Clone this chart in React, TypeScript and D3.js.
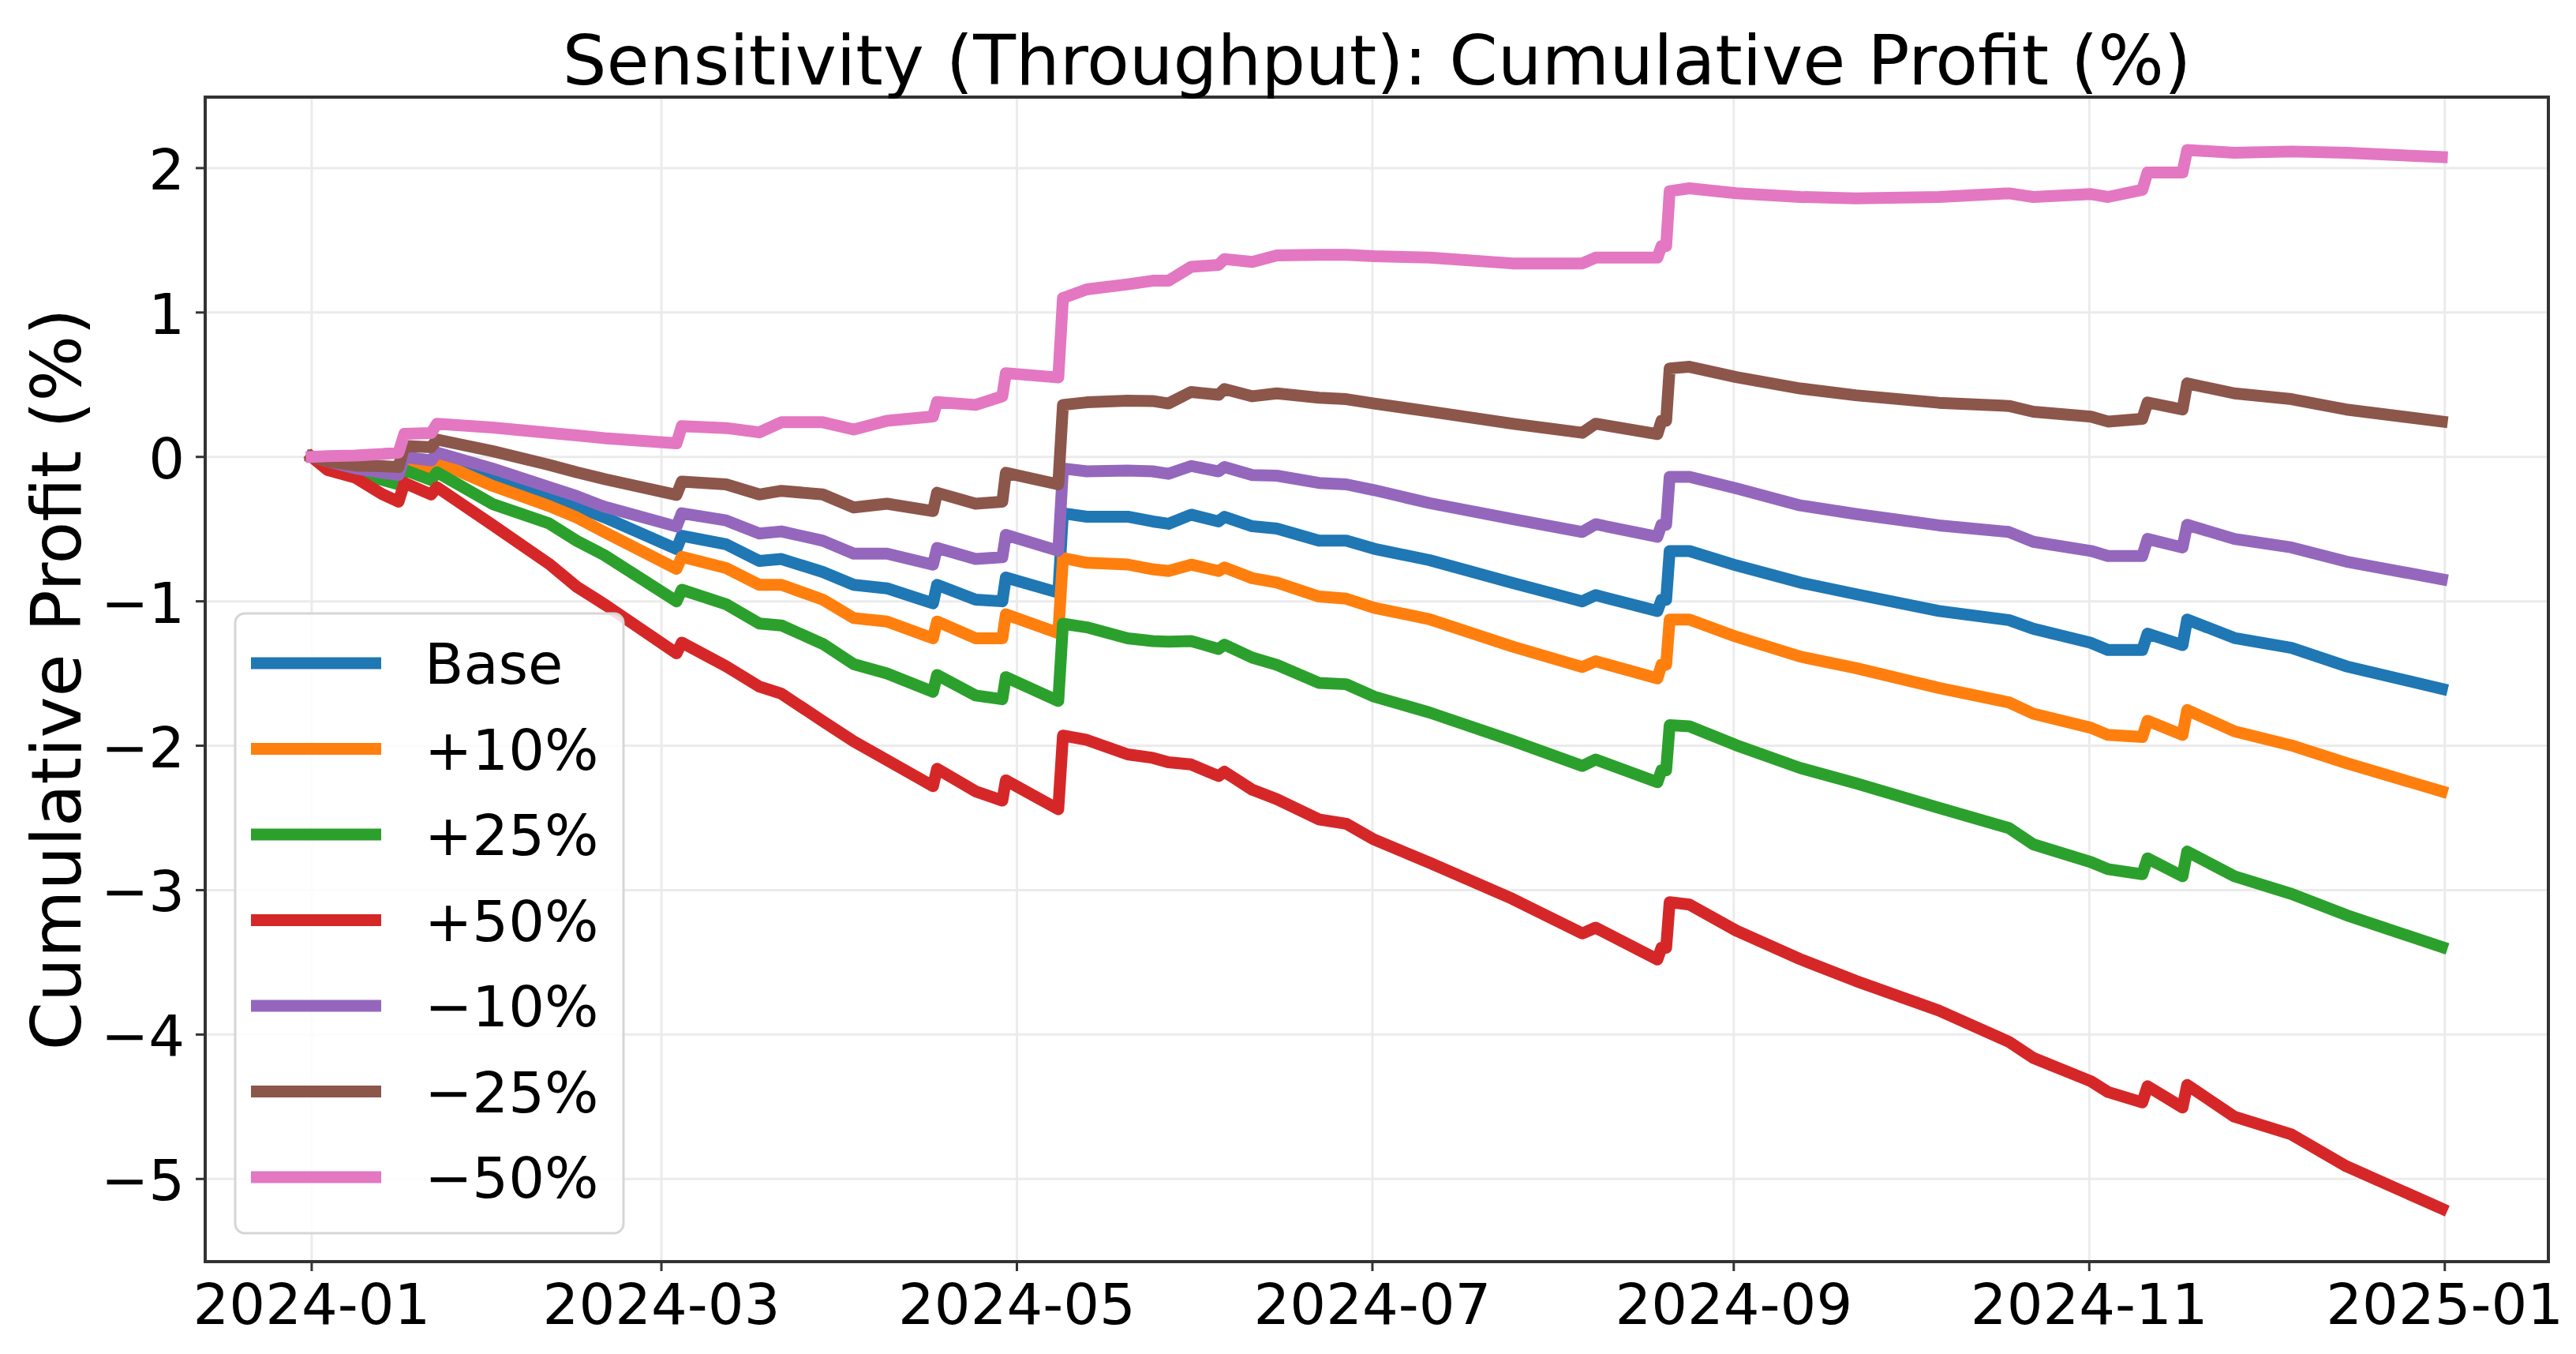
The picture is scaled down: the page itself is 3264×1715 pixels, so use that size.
import React, { useEffect } from 'react';
import * as d3 from 'd3';

// Days elapsed since 2024-01-01 (UTC) for each sampled point
const DAYS = [
  0, 2.7, 7.5, 12.2, 14.9, 15.9, 20.5, 21.5, 31.0, 40.7, 45.5, 50.2, 62.6, 63.5, 71.1, 76.8,
  80.6, 87.7, 93.0, 98.7, 106.6, 107.3, 113.9, 118.5, 119.1, 128.1, 128.9, 133.0, 140.0, 144.3,
  147.0, 150.9, 155.6, 156.6, 161.4, 165.6, 172.8, 177.5, 182.3, 191.8, 206.0, 218.0, 220.3,
  230.9, 231.6, 232.4, 233.0, 236.4, 244.4, 255.4, 264.9, 279.2, 291.2, 295.4, 305.3, 308.2,
  314.1, 315.0, 321.0, 321.8, 329.9, 339.7, 349.1, 365.5,
];

const BASE = [
  0, -0.035, -0.09, -0.12, -0.135, -0.03, -0.05, 0.0, -0.144, -0.262, -0.345, -0.418, -0.638, -0.546,
  -0.605, -0.72, -0.707, -0.797, -0.886, -0.91, -1.014, -0.886, -0.988, -1.0, -0.835, -0.94, -0.39,
  -0.414, -0.414, -0.447, -0.463, -0.4, -0.447, -0.415, -0.48, -0.496, -0.58, -0.58, -0.636, -0.715,
  -0.872, -1.0, -0.957, -1.067, -0.99, -0.99, -0.652, -0.652, -0.751, -0.87, -0.95, -1.067, -1.13,
  -1.19, -1.288, -1.337, -1.337, -1.224, -1.303, -1.126, -1.254, -1.322, -1.45, -1.606,
];

const PLUS_10 = [
  0, -0.04, -0.095, -0.125, -0.14, -0.04, -0.09, -0.034, -0.2, -0.34, -0.42, -0.52, -0.775, -0.692,
  -0.77, -0.886, -0.886, -0.988, -1.116, -1.14, -1.256, -1.14, -1.256, -1.256, -1.09, -1.22, -0.7,
  -0.733, -0.745, -0.778, -0.79, -0.746, -0.79, -0.766, -0.84, -0.87, -0.967, -0.982, -1.045, -1.124,
  -1.313, -1.455, -1.415, -1.534, -1.44, -1.44, -1.126, -1.126, -1.245, -1.383, -1.462, -1.6, -1.7,
  -1.778, -1.876, -1.925, -1.94, -1.827, -1.925, -1.753, -1.9, -1.998, -2.12, -2.316,
];

const PLUS_25 = [
  0, -0.05, -0.11, -0.16, -0.19, -0.09, -0.16, -0.107, -0.326, -0.46, -0.582, -0.68, -1.0, -0.92,
  -1.02, -1.154, -1.167, -1.295, -1.435, -1.5, -1.627, -1.51, -1.652, -1.678, -1.525, -1.69, -1.155,
  -1.18, -1.256, -1.275, -1.28, -1.275, -1.33, -1.3, -1.39, -1.44, -1.565, -1.574, -1.66, -1.77,
  -1.965, -2.14, -2.095, -2.253, -2.17, -2.17, -1.858, -1.866, -1.996, -2.154, -2.26, -2.43, -2.57,
  -2.683, -2.806, -2.855, -2.89, -2.78, -2.904, -2.733, -2.904, -3.026, -3.173, -3.394,
];

const PLUS_50 = [
  0, -0.09, -0.144, -0.26, -0.31, -0.18, -0.26, -0.21, -0.47, -0.74, -0.9, -1.02, -1.36, -1.286,
  -1.45, -1.59, -1.64, -1.83, -1.97, -2.1, -2.28, -2.16, -2.316, -2.38, -2.24, -2.44, -1.93, -1.96,
  -2.06, -2.084, -2.115, -2.13, -2.21, -2.18, -2.305, -2.37, -2.51, -2.54, -2.65, -2.81, -3.06, -3.3,
  -3.26, -3.48, -3.4, -3.4, -3.083, -3.1, -3.28, -3.478, -3.628, -3.834, -4.05, -4.162, -4.324,
  -4.398, -4.47, -4.358, -4.505, -4.349, -4.569, -4.692, -4.912, -5.206,
];

const MINUS_10 = [
  0, -0.03, -0.08, -0.11, -0.125, 0.0, -0.025, 0.03, -0.08, -0.208, -0.272, -0.345, -0.482, -0.39,
  -0.44, -0.53, -0.516, -0.58, -0.67, -0.67, -0.746, -0.63, -0.707, -0.695, -0.54, -0.65, -0.08,
  -0.1, -0.094, -0.1, -0.117, -0.063, -0.1, -0.07, -0.126, -0.13, -0.18, -0.19, -0.23, -0.32, -0.43,
  -0.52, -0.466, -0.553, -0.47, -0.47, -0.138, -0.138, -0.217, -0.336, -0.395, -0.474, -0.52,
  -0.588, -0.651, -0.686, -0.686, -0.568, -0.627, -0.47, -0.568, -0.627, -0.725, -0.847,
];

const MINUS_25 = [
  0, -0.03, -0.06, -0.065, -0.07, 0.076, 0.067, 0.12, 0.04, -0.055, -0.107, -0.153, -0.263, -0.171,
  -0.19, -0.26, -0.235, -0.26, -0.35, -0.324, -0.375, -0.248, -0.324, -0.31, -0.11, -0.19, 0.36,
  0.378, 0.39, 0.387, 0.37, 0.45, 0.43, 0.47, 0.42, 0.44, 0.41, 0.4, 0.37, 0.315, 0.23, 0.167, 0.23,
  0.158, 0.25, 0.25, 0.613, 0.624, 0.553, 0.474, 0.427, 0.375, 0.353, 0.313, 0.279, 0.245, 0.264,
  0.377, 0.328, 0.509, 0.44, 0.4, 0.328, 0.245,
];

const MINUS_50 = [
  0, 0.005, 0.01, 0.02, 0.03, 0.16, 0.165, 0.23, 0.204, 0.167, 0.149, 0.13, 0.094, 0.213, 0.2, 0.17,
  0.24, 0.24, 0.19, 0.25, 0.28, 0.38, 0.36, 0.42, 0.58, 0.55, 1.1, 1.16, 1.195, 1.22, 1.22, 1.316,
  1.33, 1.37, 1.35, 1.395, 1.4, 1.4, 1.39, 1.38, 1.34, 1.34, 1.38, 1.38, 1.46, 1.46, 1.84, 1.86,
  1.826, 1.8, 1.79, 1.8, 1.825, 1.8, 1.82, 1.8, 1.85, 1.97, 1.97, 2.125, 2.106, 2.115, 2.106, 2.076,
];

const SERIES_NAMES = ['Base', '+10%', '+25%', '+50%', '\u221210%', '\u221225%', '\u221250%'];
const SERIES_VALUES = [BASE, PLUS_10, PLUS_25, PLUS_50, MINUS_10, MINUS_25, MINUS_50];
const SERIES_COLORS = ['#1f77b4', '#ff7f0e', '#2ca02c', '#d62728', '#9467bd', '#8c564b', '#e377c2'];

const X_TICKS = ['2024-01-01', '2024-03-01', '2024-05-01', '2024-07-01', '2024-09-01', '2024-11-01', '2025-01-01'];
const Y_TICKS = [-5, -4, -3, -2, -1, 0, 1, 2];

const TITLE = 'Sensitivity (Throughput): Cumulative Profit (%)';
const Y_LABEL = 'Cumulative Profit (%)';

const W = 3264;
const H = 1715;
const PLOT = { left: 260, top: 123, right: 3229, bottom: 1598 };
const FONT = 'DejaVu Sans';

export default function App() {
  useEffect(() => {
    document.body.style.margin = '0';
    document.body.style.overflow = 'hidden';
  }, []);

  const t0 = Date.UTC(2024, 0, 1);
  const toDate = (d: number) => new Date(t0 + d * 86400000);

  const dMin = d3.min(DAYS) as number;
  const dMax = d3.max(DAYS) as number;
  const dPad = (dMax - dMin) * 0.05;
  const x = d3
    .scaleUtc()
    .domain([toDate(dMin - dPad), toDate(dMax + dPad)])
    .range([PLOT.left, PLOT.right]);

  const all = SERIES_VALUES.flat();
  const vMin = d3.min(all) as number;
  const vMax = d3.max(all) as number;
  const vPad = (vMax - vMin) * 0.05;
  const y = d3.scaleLinear().domain([vMin - vPad, vMax + vPad]).range([PLOT.bottom, PLOT.top]);

  const line = d3
    .line<number>()
    .x((_, i) => x(toDate(DAYS[i])))
    .y((v) => y(v));

  const fmt = d3.utcFormat('%Y-%m');
  const yFmt = (v: number) => (v < 0 ? '\u2212' + Math.abs(v) : String(v));

  const tickFont = 72;
  const lineW = 15;

  const legend = { x: 298, y: 777, w: 492, h: 785 };
  const rowY = (i: number) => 840 + i * 108.5;

  return (
    <svg
      width={W}
      height={H}
      style={{ position: 'absolute', left: 0, top: 0, background: '#fff' }}
      fontFamily={FONT}
    >
      <rect x={0} y={0} width={W} height={H} fill="#fff" />
      {/* grid */}
      <g stroke="#ebebeb" strokeWidth={3}>
        {X_TICKS.map((t) => {
          const px = x(new Date(t + 'T00:00:00Z'));
          return <line key={t} x1={px} x2={px} y1={PLOT.top} y2={PLOT.bottom} />;
        })}
        {Y_TICKS.map((t) => (
          <line key={t} x1={PLOT.left} x2={PLOT.right} y1={y(t)} y2={y(t)} />
        ))}
      </g>

      {/* series */}
      <g fill="none" strokeWidth={lineW} strokeLinejoin="round" strokeLinecap="square">
        {SERIES_VALUES.map((vals, i) => (
          <path key={SERIES_NAMES[i]} d={line(vals) || ''} stroke={SERIES_COLORS[i]} />
        ))}
      </g>

      {/* spines */}
      <rect
        x={PLOT.left}
        y={PLOT.top}
        width={PLOT.right - PLOT.left}
        height={PLOT.bottom - PLOT.top}
        fill="none"
        stroke="#333"
        strokeWidth={4}
      />

      {/* x ticks */}
      <g>
        {X_TICKS.map((t) => {
          const px = x(new Date(t + 'T00:00:00Z'));
          return (
            <g key={t}>
              <line x1={px} x2={px} y1={PLOT.bottom} y2={PLOT.bottom + 12} stroke="#333" strokeWidth={3} />
              <text x={px} y={1677} fontSize={tickFont} textAnchor="middle" fill="#000">
                {fmt(new Date(t + 'T00:00:00Z'))}
              </text>
            </g>
          );
        })}
      </g>

      {/* y ticks */}
      <g>
        {Y_TICKS.map((t) => (
          <g key={t}>
            <line x1={PLOT.left - 12} x2={PLOT.left} y1={y(t)} y2={y(t)} stroke="#333" strokeWidth={3} />
            <text x={234} y={y(t) + 27} fontSize={tickFont} textAnchor="end" fill="#000">
              {yFmt(t)}
            </text>
          </g>
        ))}
      </g>

      {/* title */}
      <text x={(PLOT.left + PLOT.right) / 2} y={107} fontSize={88} textAnchor="middle" fill="#000">
        {TITLE}
      </text>

      {/* y label */}
      <text
        transform={`translate(102, ${(PLOT.top + PLOT.bottom) / 2}) rotate(-90)`}
        fontSize={88}
        textAnchor="middle"
        fill="#000"
      >
        {Y_LABEL}
      </text>

      {/* legend */}
      <g>
        <rect
          x={legend.x}
          y={legend.y}
          width={legend.w}
          height={legend.h}
          rx={12}
          ry={12}
          fill="#fff"
          fillOpacity={0.85}
          stroke="#d6d6d6"
          strokeWidth={3}
        />
        {SERIES_NAMES.map((name, i) => (
          <g key={name}>
            <line
              x1={318}
              x2={483}
              y1={rowY(i)}
              y2={rowY(i)}
              stroke={SERIES_COLORS[i]}
              strokeWidth={lineW}
              strokeLinecap="butt"
            />
            <text x={538} y={rowY(i) + 26} fontSize={tickFont} fill="#000">
              {name}
            </text>
          </g>
        ))}
      </g>
    </svg>
  );
}
